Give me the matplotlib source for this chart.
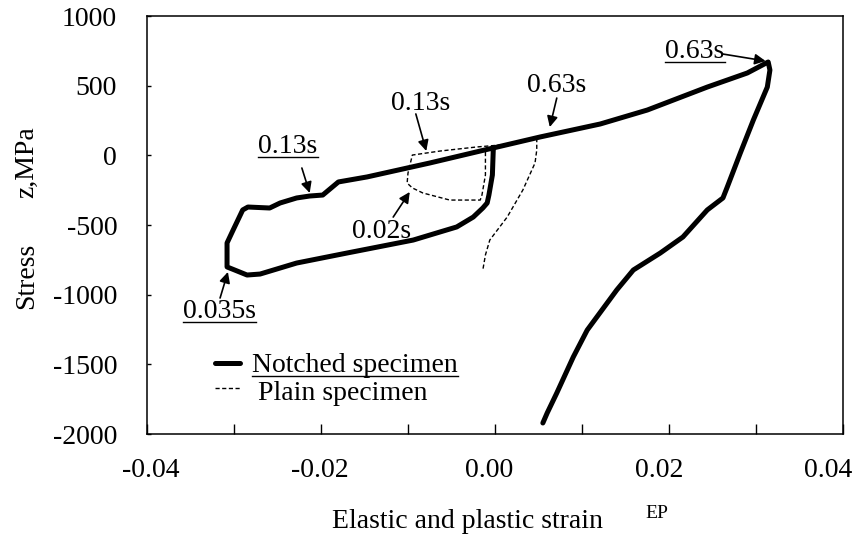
import matplotlib
matplotlib.use("Agg")
import matplotlib.pyplot as plt
from matplotlib.lines import Line2D
from matplotlib.ticker import MultipleLocator, NullFormatter
from matplotlib.transforms import IdentityTransform

plt.rcParams["font.family"] = ["Liberation Serif", "DejaVu Serif"]
plt.rcParams["axes.unicode_minus"] = False

# Notched specimen: stress-strain path (strain, stress in MPa)
notched_strain = [-0.0002, -0.0003, -0.0007, -0.0009, -0.0014, -0.0025, -0.0044, -0.0094,
                  -0.0170, -0.0228, -0.0270, -0.0285, -0.0302, -0.0308, -0.0308, -0.0301,
                  -0.0290, -0.0284, -0.0259, -0.0247, -0.0228, -0.0213, -0.0198, -0.0180,
                  -0.0147, -0.0075, -0.0002, 0.0052, 0.0121, 0.0175, 0.0244, 0.0290,
                  0.0314, 0.0316, 0.0313, 0.0297, 0.0282, 0.0267, 0.0262, 0.0244,
                  0.0216, 0.0190, 0.0159, 0.0140, 0.0106, 0.0090, 0.0071, 0.0060, 0.0055]
notched_stress = [38, -141, -285, -342, -378, -443, -514, -608,
                  -701, -773, -852, -859, -816, -801, -629, -536,
                  -392, -371, -378, -342, -306, -292, -285, -191,
                  -155, -55, 53, 132, 225, 325, 490, 591,
                  670, 612, 490, 254, 17, -227, -306, -392,
                  -586, -701, -823, -966, -1254, -1447, -1706, -1849, -1921]

# Plain specimen: stress-strain path
plain_strain = [-0.0011, -0.0011, -0.0015, -0.0017, -0.0052, -0.0083, -0.0095, -0.0101,
                -0.0100, -0.0095, -0.0063, -0.0021, 0.0006, 0.0029, 0.0048, 0.0048,
                0.0046, 0.0032, 0.0014, -0.0006, -0.0011, -0.0014]
plain_stress = [24, -141, -285, -321, -321, -270, -234, -199,
                -127, 2, 31, 60, 74, 96, 124, 38,
                -55, -249, -443, -608, -715, -823]

# Time labels: text, text anchor (strain, stress), arrow start, arrow tip, underlined
time_labels = ["0.63s", "0.63s", "0.13s", "0.13s", "0.02s", "0.035s"]
label_xy = [(0.0230, 699), (0.0071, 455), (-0.0085, 325), (-0.0238, 17), (-0.0130, -593), (-0.0317, -1167)]
arrow_from = [(0.0262, 727), (0.0071, 411), (-0.0091, 297), (-0.0222, -91), (-0.0117, -443), (-0.0316, -1024)]
arrow_to = [(0.0311, 677), (0.0063, 203), (-0.0079, 31), (-0.0213, -270), (-0.0098, -263), (-0.0307, -837)]
label_underlined = [True, False, False, True, False, True]

x_ticks = [-0.04, -0.02, 0.00, 0.02, 0.04]
y_ticks = [-2000, -1500, -1000, -500, 0, 500, 1000]

FS = 20

fig = plt.figure(figsize=(8.62, 5.40), dpi=100)
W, H = 862, 540
ax = fig.add_axes([147 / W, 1 - 434 / H, 696 / W, 418 / H])

ax.plot(notched_strain, notched_stress, color="black", lw=3.6,
        solid_joinstyle="round", solid_capstyle="round")
ax.plot(plain_strain, plain_stress, color="black", lw=1.0, linestyle=(0, (3, 1.8)))

ax.set_xlim(-0.04, 0.04)
ax.set_ylim(-2000, 1000)
ax.set_xticks(x_ticks)
ax.xaxis.set_minor_locator(MultipleLocator(0.01))
ax.xaxis.set_major_formatter(NullFormatter())
ax.set_yticks(y_ticks)
ax.tick_params(axis="x", which="both", direction="in", length=7.5, width=1.0)
ax.tick_params(axis="y", which="both", direction="in", length=3, width=1.0,
               labelsize=FS, pad=21.5)
for sp in ax.spines.values():
    sp.set_linewidth(1.1)

# strain tick labels, spread slightly narrower than the axis so the last one fits
lab_left, lab_span = 151, 677
for v in x_ticks:
    px = lab_left + (v - x_ticks[0]) / (x_ticks[-1] - x_ticks[0]) * lab_span
    fig.text(px / W, 1 - 477 / H, f"{v:.2f}", ha="center", va="baseline", fontsize=FS)

# time annotations
label_texts = []
for txt, pos, a0, a1, ul in zip(time_labels, label_xy, arrow_from, arrow_to, label_underlined):
    ax.annotate("", xy=a1, xytext=a0,
                arrowprops=dict(arrowstyle="-|>", color="black", lw=1.2,
                                mutation_scale=16, shrinkA=0, shrinkB=0))
    t = ax.text(pos[0], pos[1], txt, ha="center", va="baseline", fontsize=FS,
                clip_on=False)
    label_texts.append((t, ul))

# legend
ax.plot([0.0977, 0.1336], [0.170, 0.170], transform=ax.transAxes, color="black",
        lw=3.6, solid_capstyle="round", clip_on=False)
ax.plot([0.0977, 0.1336], [0.110, 0.110], transform=ax.transAxes, color="black",
        lw=1.0, linestyle=(0, (3, 1.8)), clip_on=False)
leg1 = ax.text(0.151, 0.148, "Notched specimen", transform=ax.transAxes,
               ha="left", va="baseline", fontsize=FS)
ax.text(0.159, 0.081, "Plain specimen", transform=ax.transAxes,
        ha="left", va="baseline", fontsize=FS)
label_texts.append((leg1, True))

# axis titles
fig.text(332 / W, 1 - 528 / H, "Elastic and plastic strain", ha="left", va="baseline",
         fontsize=FS)
fig.text(645 / W, 1 - 518 / H, "EP", ha="left", va="baseline", fontsize=14)
fig.text(33 / W, 1 - 162 / H, "z,MPa", rotation=90, rotation_mode="anchor",
         ha="center", va="baseline", fontsize=FS)
fig.text(33 / W, 1 - 276 / H, "Stress", rotation=90, rotation_mode="anchor",
         ha="center", va="baseline", fontsize=FS)

# underline selected labels
fig.canvas.draw()
renderer = fig.canvas.get_renderer()
for t, ul in label_texts:
    if not ul:
        continue
    bb = t.get_window_extent(renderer)
    base_y = t.get_transform().transform(t.get_position())[1]
    y = base_y - 4
    fig.add_artist(Line2D([bb.x0, bb.x1], [y, y], transform=IdentityTransform(),
                          color="black", lw=1.0))

fig.savefig("out.png", dpi=100)
